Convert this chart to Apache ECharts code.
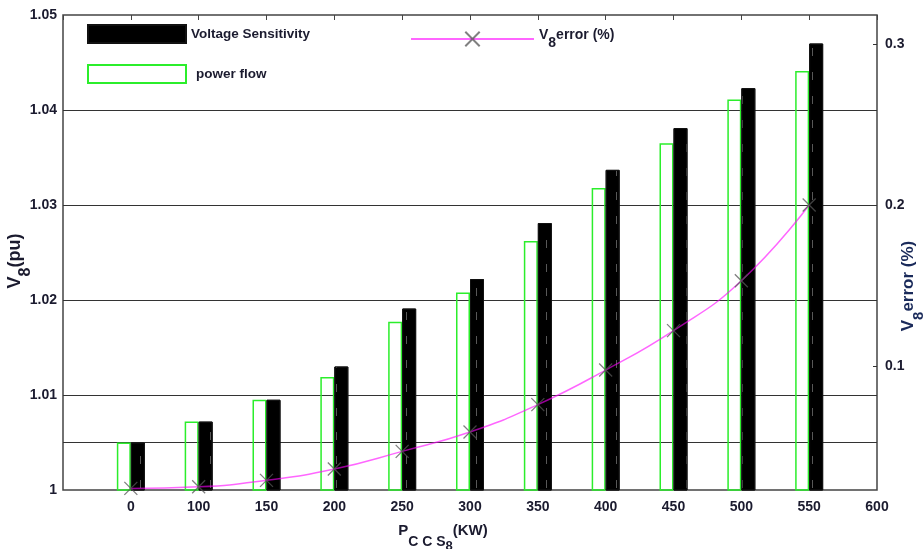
<!DOCTYPE html>
<html>
<head>
<meta charset="utf-8">
<script src="https://cdn.jsdelivr.net/npm/echarts@6/dist/echarts.min.js"></script>
<style>
  html, body { margin: 0; padding: 0; background: #fff; }
  #chart { width: 924px; height: 549px; }
</style>
</head>
<body>
<div id="chart"></div>
<script>
// P_CCS8 steps (kW)
var categories = ['0', '100', '150', '200', '250', '300', '350', '400', '450', '500', '550'];
var xTickLabels = [''].concat(categories, ['600']);
var powerFlow = [1.0050, 1.0072, 1.0095, 1.0119, 1.0177, 1.0208, 1.0262, 1.0318, 1.0365, 1.0411, 1.0441];
var voltageSens = [1.0050, 1.0072, 1.0095, 1.0130, 1.0191, 1.0222, 1.0281, 1.0337, 1.0381, 1.0423, 1.0470];
var errorPct = [0.024, 0.025, 0.029, 0.036, 0.047, 0.059, 0.076, 0.0975, 0.122, 0.153, 0.200];
var rightTicks = [0.1, 0.2, 0.3];

var font = 'Liberation Sans';
var txt = '#1b1b2f';
var G = '#333', T = 'rgba(0,0,0,0)';
// left axis steps by 0.005: grid lines only at 1.005, 1.01, 1.02, 1.03, 1.04
var gridColors = [T, G, G, T, G, T, G, T, G, T, T];

function pad(arr) {
    return [null].concat(arr, [null]);
}

var chart = echarts.init(document.getElementById('chart'));

var option = {
    animation: false,
    textStyle: { fontFamily: font },
    grid: {
        left: 63, right: 47, top: 15, bottom: 59,
        show: true, borderColor: '#444', borderWidth: 1.5, backgroundColor: '#fff'
    },
    legend: [{
        orient: 'vertical', left: 87, top: 24, padding: 0,
        itemWidth: 98, itemHeight: 18, itemGap: 20,
        icon: 'rect',
        data: [
            { name: 'Voltage Sensitivity', itemStyle: { decal: 'none' } },
            'power flow'
        ],
        formatter: function (name) {
            return name === 'power flow' ? '{p|' + name + '}' : name;
        },
        textStyle: {
            fontSize: 13.5, fontWeight: 'bold', color: txt,
            rich: { p: { fontSize: 13.5, fontWeight: 'bold', color: txt, padding: [0, 0, 0, 5] } }
        }
    }, {
        left: 410, top: 28, padding: 0,
        itemWidth: 123, itemHeight: 18,
        data: ['V8error'],
        formatter: function () { return '{a|V}{b|8}{a|error (%)}'; },
        textStyle: {
            fontSize: 14, fontWeight: 'bold', color: txt,
            rich: {
                a: { fontSize: 14, fontWeight: 'bold', color: txt, verticalAlign: 'top', lineHeight: 22 },
                b: { fontSize: 14, fontWeight: 'bold', color: txt, verticalAlign: 'bottom', lineHeight: 22 }
            }
        }
    }],
    xAxis: [{
        type: 'category',
        data: xTickLabels,
        boundaryGap: false,
        axisLine: { show: false },
        axisTick: { show: false },
        axisLabel: { interval: 0, margin: 10, fontSize: 14, fontWeight: 'bold', color: txt },
        splitLine: { show: false }
    }, {
        type: 'category',
        position: 'top',
        data: xTickLabels,
        boundaryGap: false,
        axisLine: { show: false },
        axisTick: { show: true, inside: true, length: 5, interval: 0, lineStyle: { color: '#444' } },
        axisLabel: { show: false }
    }],
    yAxis: [{
        type: 'value',
        min: 1, max: 1.05, interval: 0.005,
        axisLine: { show: false },
        axisTick: { show: false },
        axisLabel: {
            margin: 6, fontSize: 14, fontWeight: 'bold', color: txt,
            formatter: function (v) {
                var k = Math.round((v - 1) * 1000);
                if (k % 10 !== 0) return '';
                return k === 0 ? '1' : v.toFixed(2);
            }
        },
        splitLine: { lineStyle: { color: gridColors, width: 1 } }
    }, {
        type: 'value',
        min: 0.023, max: 0.318,
        position: 'right',
        axisLine: { show: false },
        axisTick: { show: true, inside: true, length: 4, customValues: rightTicks, lineStyle: { color: '#333' } },
        axisLabel: {
            margin: 8, fontSize: 14, fontWeight: 'bold', color: txt,
            customValues: rightTicks,
            formatter: function (v) { return v.toFixed(1); }
        },
        splitLine: { show: false }
    }],
    graphic: [{
        type: 'text', x: 20, y: 261, rotation: Math.PI / 2,
        style: {
            text: '{a|V}{b|8}{a|(pu)}', align: 'center', verticalAlign: 'middle',
            rich: {
                a: { fontFamily: font, fontSize: 18, fontWeight: 'bold', fill: txt, verticalAlign: 'top', lineHeight: 28 },
                b: { fontFamily: font, fontSize: 16, fontWeight: 'bold', fill: txt, verticalAlign: 'bottom', lineHeight: 28 }
            }
        }
    }, {
        type: 'text', x: 913, y: 286, rotation: Math.PI / 2,
        style: {
            text: '{a|V}{b|8}{a|error (%)}', align: 'center', verticalAlign: 'middle',
            rich: {
                a: { fontFamily: font, fontSize: 17, fontWeight: 'bold', fill: '#1a2a5a', verticalAlign: 'top', lineHeight: 26 },
                b: { fontFamily: font, fontSize: 15, fontWeight: 'bold', fill: '#1a2a5a', verticalAlign: 'bottom', lineHeight: 26 }
            }
        }
    }, {
        type: 'text', x: 443, y: 538,
        style: {
            text: '{a|P}{b|C C S}{c|8}{a|(KW)}', align: 'center', verticalAlign: 'middle',
            rich: {
                a: { fontFamily: font, fontSize: 15, fontWeight: 'bold', fill: txt, verticalAlign: 'top', lineHeight: 30 },
                b: { fontFamily: font, fontSize: 14, fontWeight: 'bold', fill: txt, verticalAlign: 'middle', lineHeight: 30, padding: [8, 0, 0, 0] },
                c: { fontFamily: font, fontSize: 13, fontWeight: 'bold', fill: txt, verticalAlign: 'bottom', lineHeight: 30 }
            }
        }
    }],
    series: [{
        name: 'power flow',
        type: 'bar',
        data: pad(powerFlow),
        barWidth: 14,
        barGap: '0%',
        itemStyle: { color: 'rgba(255,255,255,0)', borderColor: '#2bee2b', borderWidth: 1.5 }
    }, {
        name: 'Voltage Sensitivity',
        type: 'bar',
        data: pad(voltageSens),
        barWidth: 14,
        z: 6,
        itemStyle: {
            color: '#000', borderColor: '#111', borderWidth: 1,
            decal: {
                symbol: 'rect', symbolSize: 1,
                dashArrayX: [[1, 13]], dashArrayY: [8, 16],
                color: 'rgba(110,110,110,0.8)', rotation: 0
            }
        }
    }, {
        name: 'V8error',
        type: 'line',
        yAxisIndex: 1,
        z: 7,
        data: pad(errorPct),
        smooth: true,
        symbol: 'path://M0,0L10,10M10,0L0,10',
        symbolSize: 13,
        lineStyle: { color: '#ff00ff', width: 1.5, opacity: 0.6 },
        itemStyle: { color: '#ff00ff', borderColor: '#555', borderWidth: 1.3, opacity: 0.75 }
    }]
};

chart.setOption(option);
</script>
</body>
</html>
